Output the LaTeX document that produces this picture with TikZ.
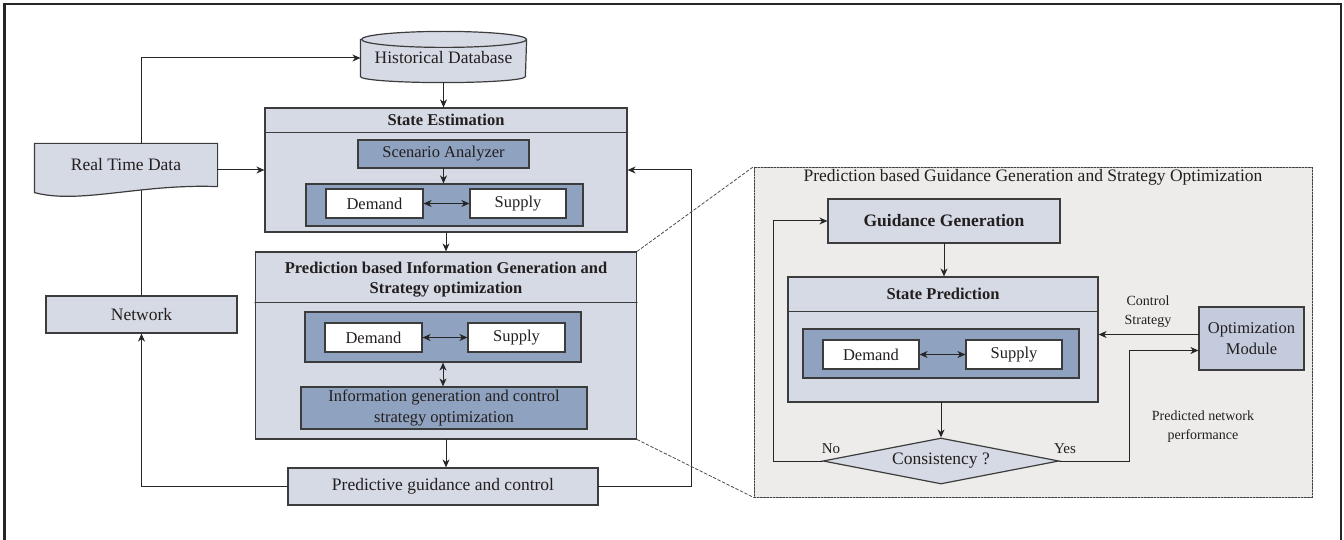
\documentclass[tikz,border=0pt]{standalone}
\usepackage{fontspec}
\setmainfont{Liberation Serif}
\usetikzlibrary{arrows.meta,shapes.geometric,backgrounds,positioning}

\begin{document}
\begin{tikzpicture}
        [x=1pt, y=1pt, line cap=round,
        % Styles
        light box/.style={draw=edgecolor, fill=lightcolor, line width=1.2pt, inner sep=0pt,
                text=textcolor, font=\fontsize{17.5}{20}\selectfont},
        dark box/.style={light box, fill=darkcolor, font=\fontsize{16.5}{21}\selectfont},
        plain box/.style={light box, fill=white, font=\fontsize{16.5}{19}\selectfont},
        title text/.style={text=textcolor, align=center, font=\bfseries\fontsize{16.5}{20}\selectfont},
        small text/.style={text=textcolor, align=center, font=\fontsize{14}{19}\selectfont},
        panel box/.style={draw=black!75, dash pattern=on 2pt off 1.2pt, line width=0.8pt, fill=panelcolor},
        flow arrow/.style={draw=black!85, line width=1pt, -{Stealth[length=8pt, width=7pt, inset=2.5pt]}},
        both ways/.style={flow arrow, {Stealth[length=8pt, width=7pt, inset=2.5pt]}-{Stealth[length=8pt, width=7pt, inset=2.5pt]}},
        zoom line/.style={draw=black!70, dash pattern=on 3pt off 2pt, line width=0.8pt}]

        % Colors
        \definecolor{lightcolor}{RGB}{214,218,229}
        \definecolor{darkcolor}{RGB}{143,162,192}
        \definecolor{panelcolor}{RGB}{237,236,234}
        \definecolor{optimcolor}{RGB}{196,203,221}
        \definecolor{edgecolor}{RGB}{60,60,60}
        \definecolor{textcolor}{RGB}{35,31,32}

        % The graphic
        \useasboundingbox (0,0) rectangle (1344,539);
        \draw[line width=2.8pt, black!85, line cap=butt] (4.6,-10) -- (4.6,535) -- (1341,535) -- (1341,-10);

        % zoomed panel
        \node[panel box, minimum width=558, minimum height=330] (panel) at (1033,207) {};
        \node[text=textcolor, font=\fontsize{17.5}{20}\selectfont] (panel title) at (1033,362)
                {Prediction based Guidance Generation and Strategy Optimization};

        % left part
        \node[light box, draw=none, fill=none, minimum width=165, minimum height=36] (hist) at (443.5,481)
                {Historical Database};
        \node[light box, draw=none, fill=none, minimum width=182, minimum height=42] (rtd) at (126,374)
                {Real Time Data};
        \begin{scope}[on background layer]
                \filldraw[fill=lightcolor, draw=edgecolor, line width=1.2pt]
                        (hist.north west) -- (hist.south west)
                        arc [start angle=180, end angle=360, x radius=82.5pt, y radius=6pt]
                        -- (hist.north east)
                        arc [start angle=0, end angle=180, x radius=82.5pt, y radius=8pt] -- cycle;
                \draw[edgecolor, line width=1.2pt] (hist.north east)
                        arc [start angle=0, end angle=-180, x radius=82.5pt, y radius=8pt];
                \filldraw[fill=lightcolor, draw=edgecolor, line width=1.2pt]
                        (rtd.north west) -- ([yshift=-6pt]rtd.south west)
                        .. controls ([xshift=45pt, yshift=-18pt]rtd.south west)
                        and ([xshift=-77pt, yshift=3pt]rtd.south east) .. (rtd.south east)
                        -- (rtd.north east) -- cycle;
        \end{scope}

        \node[light box, minimum width=362, minimum height=124] (state est) at (446,369) {};
        \draw[edgecolor, line width=1.2pt] ([yshift=-25pt]state est.north west) -- ([yshift=-25pt]state est.north east);
        \node[title text] (se title) at ([yshift=-12.5pt]state est.north) {State Estimation};
        \node[dark box, minimum width=171, minimum height=28] (scenario) at (443.5,385) {Scenario Analyzer};
        \node[dark box, minimum width=277, minimum height=42] (se pair) at (444.5,334) {};
        \node[plain box, minimum width=97, minimum height=29] (se demand) at (374.5,335.5) {Demand};
        \node[plain box, minimum width=96, minimum height=29] (se supply) at (518,335.5) {Supply};

        \node[light box, minimum width=381, minimum height=187] (pred) at (446,193.5) {};
        \draw[edgecolor, line width=1.2pt] ([yshift=-51pt]pred.north west) -- ([yshift=-51pt]pred.north east);
        \node[title text] (pred title) at ([yshift=-28pt]pred.north)
                {Prediction based Information Generation and\\Strategy optimization};
        \node[dark box, minimum width=276, minimum height=50] (pred pair) at (443,202) {};
        \node[plain box, minimum width=97, minimum height=29] (pred demand) at (373.5,201.5) {Demand};
        \node[plain box, minimum width=97, minimum height=29] (pred supply) at (516.5,201.5) {Supply};
        \node[dark box, minimum width=286, minimum height=42, align=center] (info) at (444,131)
                {Information generation and control\\strategy optimization};

        \node[light box, minimum width=310, minimum height=37] (guide ctrl) at (443,52.5) {Predictive guidance and control};
        \node[light box, minimum width=191, minimum height=37] (network) at (141.5,224.5) {Network};

        % right part
        \node[light box, minimum width=232, minimum height=44, font=\bfseries\fontsize{17.5}{20}\selectfont]
                (guidance) at (944,318) {Guidance Generation};
        \node[light box, minimum width=310, minimum height=125] (state pred) at (943,199.5) {};
        \draw[edgecolor, line width=1.2pt] ([yshift=-35pt]state pred.north west) -- ([yshift=-35pt]state pred.north east);
        \node[title text] (sp title) at ([yshift=-17.5pt]state pred.north) {State Prediction};
        \node[dark box, minimum width=276, minimum height=49] (sp pair) at (941,185.5) {};
        \node[plain box, minimum width=96, minimum height=29] (sp demand) at (871,184.5) {Demand};
        \node[plain box, minimum width=96, minimum height=29] (sp supply) at (1014,184.5) {Supply};
        \node[light box, diamond, aspect=5, minimum width=236, minimum height=46] (consistency) at (941,78)
                {Consistency ?};
        \node[light box, fill=optimcolor, minimum width=105, minimum height=63, align=center,
                font=\fontsize{16.5}{21}\selectfont] (optim) at (1251.5,200.5) {Optimization\\Module};

        \node[small text] (ctrl label) at (1148,227.5) {Control\\Strategy};
        \node[small text] (perf label) at (1203,112.5) {Predicted network\\performance};
        \node[small text, font=\fontsize{15}{18}\selectfont] (no label) at (831,90) {No};
        \node[small text, font=\fontsize{15}{18}\selectfont] (yes label) at (1065,90) {Yes};

        % connectors
        \draw[flow arrow] (rtd.north -| network.north) |- (hist.west);
        \draw[flow arrow] ([yshift=-6pt]hist.south) -- (hist.south |- state est.north);
        \draw[flow arrow] (rtd.east |- state est.west) -- (state est.west);
        \draw[flow arrow] (scenario.south) -- (scenario.south |- se pair.north);
        \draw[both ways] (se demand) -- (se supply);
        \draw[flow arrow] (state est.south) -- (pred.north);
        \draw[both ways] (pred demand) -- (pred supply);
        \draw[both ways] (pred pair.south) -- (pred pair.south |- info.north);
        \draw[flow arrow] (pred.south) -- (pred.south |- guide ctrl.north);
        \draw[flow arrow] (guide ctrl.west) -| (network.south);
        \draw[flow arrow] (guide ctrl.east) -- ++(93,0) |- (state est.east);
        \draw[draw=black!85, line width=1pt] (network.north) -- ([yshift=-4pt]network.north |- rtd.south);

        \draw[zoom line] (pred.north east) -- (panel.north west);
        \draw[zoom line] (pred.south east) -- (panel.south west);

        \draw[flow arrow] (guidance.south) -- (guidance.south |- state pred.north);
        \draw[both ways] (sp demand) -- (sp supply);
        \draw[flow arrow] (state pred.south -| consistency.north) -- (consistency.north);
        \draw[flow arrow] (consistency.west) -- ++(-49,0) |- (guidance.west);
        \draw[flow arrow] (consistency.east) -- ++(70,0) |- ([yshift=-12pt]optim.west);
        \draw[flow arrow] ([yshift=4pt]optim.west) -- ([yshift=4pt]optim.west -| state pred.east);
\end{tikzpicture}
\end{document}
